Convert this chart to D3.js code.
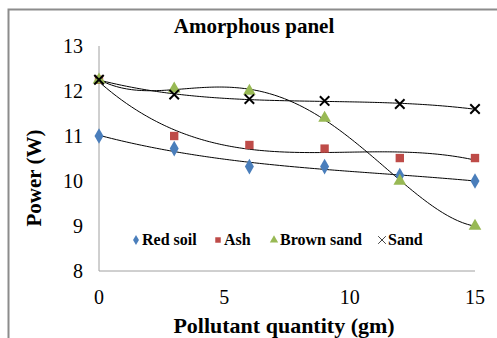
<!DOCTYPE html>
<html>
<head>
<meta charset="utf-8">
<script src="https://cdn.jsdelivr.net/npm/d3@7"></script>
<style>
  body { margin: 0; background: #fff; }
</style>
</head>
<body>
<div id="chart"></div>
<script>
// data
let quantity = [0, 3, 6, 9, 12, 15];
let redSoil = [11.0, 10.72, 10.32, 10.32, 10.12, 10.0];
let ash = [12.25, 11.0, 10.8, 10.72, 10.51, 10.51];
let brownSand = [12.25, 12.05, 12.0, 11.4, 10.0, 9.0];
let sand = [12.25, 11.92, 11.82, 11.78, 11.71, 11.6];
let xTicks = [0, 5, 10, 15];
let yTicks = [8, 9, 10, 11, 12, 13];

let seriesNames = ["Red soil", "Ash", "Brown sand", "Sand"];
let seriesValues = [redSoil, ash, brownSand, sand];
let trendOrder = [3, 3, 4, 3];
let seriesColors = ["#4a7ebb", "#be4b48", "#98b954", "#000000"];
let seriesSymbols = [d3.symbolDiamond, d3.symbolSquare, d3.symbolTriangle, d3.symbolX];

let width = 497;
let height = 338;
let serif = "Liberation Serif";

let svg = d3.select("#chart")
    .append("svg")
    .attr("width", width)
    .attr("height", height);

// outer frame (left and top edge visible)
svg.append("path")
    .attr("d", "M8.5," + height + "V9.5H" + width)
    .attr("fill", "none")
    .attr("stroke", "#8c8c8c")
    .attr("stroke-width", 2);

let x = d3.scaleLinear().domain([0, 15]).range([99, 475]);
let y = d3.scaleLinear().domain([8, 13]).range([271, 46]);

// axes lines
svg.append("line")
    .attr("x1", x(0)).attr("x2", x(0))
    .attr("y1", y(13)).attr("y2", y(8))
    .attr("stroke", "#a0a0a0").attr("stroke-width", 1);
svg.append("line")
    .attr("x1", x(0)).attr("x2", x(15))
    .attr("y1", y(8)).attr("y2", y(8))
    .attr("stroke", "#a0a0a0").attr("stroke-width", 1);

// tick labels
svg.selectAll(".ytick")
    .data(yTicks)
    .enter()
    .append("text")
    .attr("class", "ytick")
    .attr("x", 83)
    .attr("y", d => y(d) + 7)
    .attr("text-anchor", "end")
    .attr("font-family", serif)
    .attr("font-size", "20px")
    .text(d => d);

svg.selectAll(".xtick")
    .data(xTicks)
    .enter()
    .append("text")
    .attr("class", "xtick")
    .attr("x", d => x(d))
    .attr("y", 304)
    .attr("text-anchor", "middle")
    .attr("font-family", serif)
    .attr("font-size", "20px")
    .text(d => d);

// titles
svg.append("text")
    .attr("x", 254).attr("y", 33)
    .attr("text-anchor", "middle")
    .attr("font-family", serif)
    .attr("font-size", "21px")
    .attr("font-weight", "bold")
    .text("Amorphous panel");

svg.append("text")
    .attr("x", 284).attr("y", 333)
    .attr("text-anchor", "middle")
    .attr("font-family", serif)
    .attr("font-size", "22px")
    .attr("font-weight", "bold")
    .text("Pollutant quantity (gm)");

svg.append("text")
    .attr("transform", "translate(41,178) rotate(-90)")
    .attr("text-anchor", "middle")
    .attr("font-family", serif)
    .attr("font-size", "21px")
    .attr("font-weight", "bold")
    .text("Power (W)");

// least squares polynomial trendline
function polyFit(xs, ys, deg) {
    let n = deg + 1;
    let A = [];
    for (let i = 0; i < n; i++) {
        A.push([]);
        for (let j = 0; j <= n; j++) A[i].push(0);
    }
    xs.forEach(function (xv, k) {
        for (let i = 0; i < n; i++) {
            for (let j = 0; j < n; j++) A[i][j] += Math.pow(xv, i + j);
            A[i][n] += ys[k] * Math.pow(xv, i);
        }
    });
    for (let i = 0; i < n; i++) {
        let p = i;
        for (let r = i + 1; r < n; r++) if (Math.abs(A[r][i]) > Math.abs(A[p][i])) p = r;
        [A[i], A[p]] = [A[p], A[i]];
        for (let r = 0; r < n; r++) {
            if (r === i) continue;
            let f = A[r][i] / A[i][i];
            for (let c = i; c <= n; c++) A[r][c] -= f * A[i][c];
        }
    }
    return A.map((row, i) => row[n] / row[i]);
}

let line = d3.line().x(d => x(d[0])).y(d => y(d[1]));

seriesValues.forEach(function (vals, s) {
    let c = polyFit(quantity, vals, trendOrder[s]);
    let f = t => c.reduce((acc, ci, k) => acc + ci * Math.pow(t, k), 0);
    let pts = d3.range(0, 15.01, 0.1).map(t => [t, f(t)]);
    svg.append("path")
        .attr("d", line(pts))
        .attr("fill", "none")
        .attr("stroke", "#000")
        .attr("stroke-width", 1);
});

// markers
seriesValues.forEach(function (vals, s) {
    let sym = d3.symbol().type(seriesSymbols[s]).size(s === 3 ? 60 : 70);
    svg.selectAll(".m" + s)
        .data(vals)
        .enter()
        .append("path")
        .attr("class", "m" + s)
        .attr("transform", (d, i) => "translate(" + x(quantity[i]) + "," + y(d) + ")")
        .attr("d", sym)
        .attr("fill", s === 3 ? "none" : seriesColors[s])
        .attr("stroke", s === 3 ? "#000" : "none")
        .attr("stroke-width", 2);
});

// legend
let legendX = [136, 218, 274, 382];
let legend = svg.selectAll(".legend")
    .data(seriesNames)
    .enter()
    .append("g")
    .attr("class", "legend")
    .attr("transform", (d, i) => "translate(" + legendX[i] + ",240)");

legend.append("path")
    .attr("d", (d, i) => d3.symbol().type(seriesSymbols[i]).size(i === 3 ? 40 : 30)())
    .attr("fill", (d, i) => i === 3 ? "none" : seriesColors[i])
    .attr("stroke", (d, i) => i === 3 ? "#444" : "none")
    .attr("stroke-width", 1);

legend.append("text")
    .attr("x", 6)
    .attr("y", 5)
    .attr("font-family", serif)
    .attr("font-size", "16px")
    .attr("font-weight", "bold")
    .text(d => d);
</script>
</body>
</html>
